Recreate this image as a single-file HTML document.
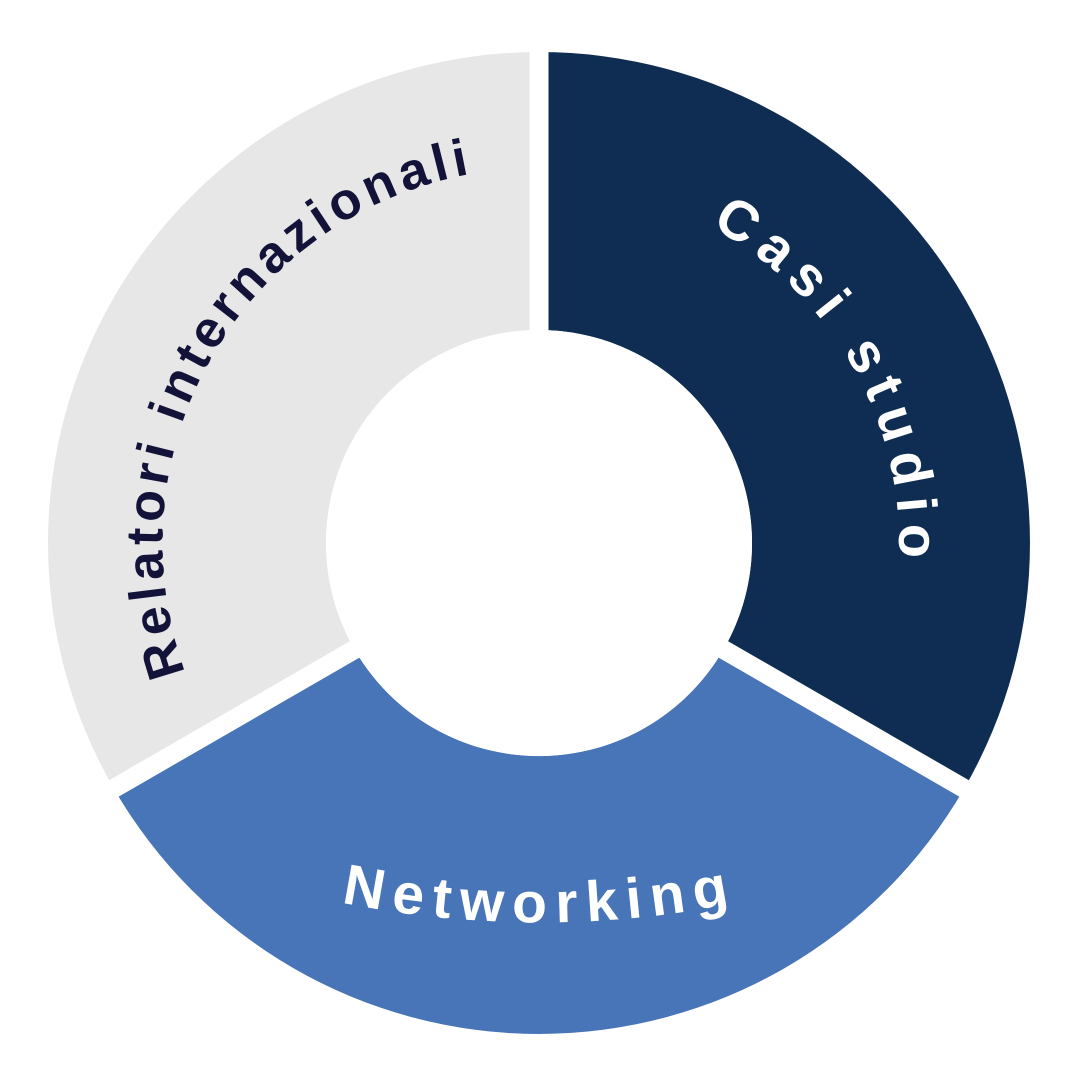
<!DOCTYPE html>
<html><head><meta charset="utf-8"><style>
html,body{margin:0;padding:0;background:#fff;}
svg{display:block}
text{font-family:"Liberation Sans",sans-serif;font-weight:bold;}
</style></head><body>
<svg width="1080" height="1080" viewBox="0 0 1080 1080" xmlns="http://www.w3.org/2000/svg">
<defs>
<path id="pR" d="M539,183 A360,360 0 0 1 850.8,723"/>
<path id="pL" d="M213,731 A375,375 0 0 1 539,168"/>
<path id="pB" d="M280,888 A1000,1000 0 0 0 800,888"/>
</defs>
<path d="M539,52 A491,491 0 0 1 964.2,788.5 L723.5,649.5 A213,213 0 0 0 539,330 Z" fill="#0f2d52"/>
<path d="M964.2,788.5 A491,491 0 0 1 113.8,788.5 L354.5,649.5 A213,213 0 0 0 723.5,649.5 Z" fill="#4874b8"/>
<path d="M113.8,788.5 A491,491 0 0 1 539,52 L539,330 A213,213 0 0 0 354.5,649.5 Z" fill="#e7e7e7"/>
<g stroke="#fff" stroke-width="19">
<line x1="539" y1="543" x2="539" y2="40"/>
<line x1="539" y1="543" x2="985" y2="800.5"/>
<line x1="539" y1="543" x2="93" y2="800.5"/>
</g>
<circle cx="539" cy="543" r="213" fill="#fff"/>
<text font-size="56" fill="#fff" letter-spacing="10"><textPath href="#pR" startOffset="51%" text-anchor="middle">Casi studio</textPath></text>
<text font-size="52" fill="#13133a" letter-spacing="5"><textPath href="#pL" startOffset="50%" text-anchor="middle">Relatori internazionali</textPath></text>
<text font-size="57" fill="#fff" letter-spacing="9"><textPath href="#pB" startOffset="50%" text-anchor="middle">Networking</textPath></text>
</svg>
</body></html>
